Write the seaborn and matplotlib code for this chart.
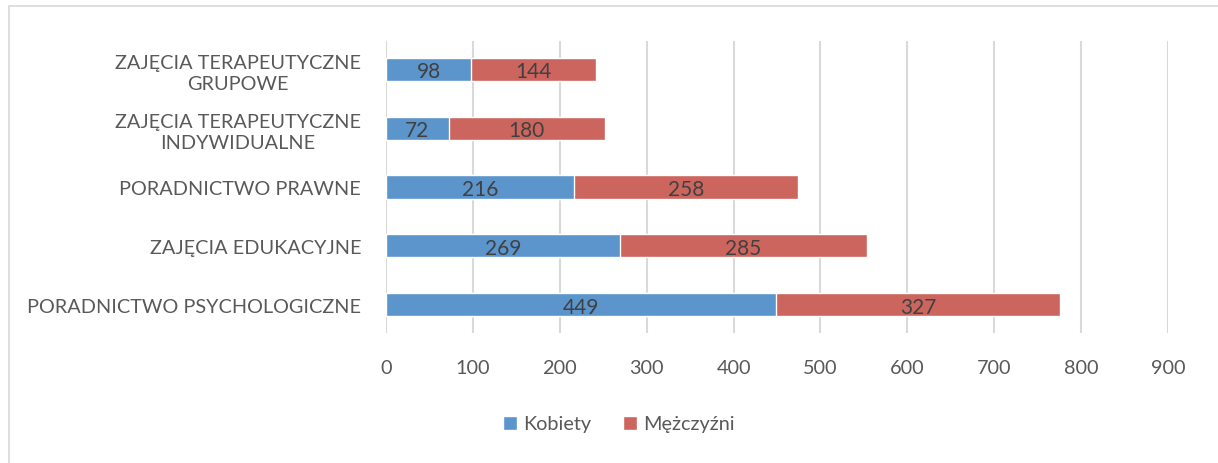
import numpy as np
import pandas as pd
import seaborn as sns
import matplotlib.pyplot as plt
from matplotlib.patches import Patch, Rectangle

# --- DANE ---
kategorie = ["ZAJĘCIA TERAPEUTYCZNE\nGRUPOWE",
             "ZAJĘCIA TERAPEUTYCZNE\nINDYWIDUALNE",
             "PORADNICTWO PRAWNE",
             "ZAJĘCIA EDUKACYJNE",
             "PORADNICTWO PSYCHOLOGICZNE"]
kobiety = [98, 72, 216, 269, 449]
mezczyzni = [144, 180, 258, 285, 327]
serie = ["Kobiety", "Mężczyźni"]

kol_k = "#5B95CB"
kol_m = "#CD655F"
szary = "#595959"
fs = 14.3

sns.set_style("white")
plt.rcParams["font.family"] = ["Lato", "DejaVu Sans"]

df = pd.DataFrame({"kat": kategorie, "k": kobiety, "m": mezczyzni})
df["suma"] = df["k"] + df["m"]

fig = plt.figure(figsize=(12.18, 4.64), dpi=100)
ax = fig.add_axes([386 / 1218, 1 - 334 / 464, (1168 - 386) / 1218, (334 - 42) / 464])

# najpierw sumy (czerwone), potem kobiety na wierzchu
sns.barplot(data=df, y="kat", x="suma", color=kol_m, width=0.39, saturation=1,
            orient="h", ax=ax, zorder=2)
sns.barplot(data=df, y="kat", x="k", color=kol_k, width=0.39, saturation=1,
            orient="h", ax=ax, zorder=3)

for i, row in df.iterrows():
    ax.text(row["k"] / 2, i + 0.03, str(row["k"]), ha="center", va="center",
            fontsize=15, color="#404040", zorder=4)
    ax.text(row["k"] + row["m"] / 2, i + 0.03, str(row["m"]), ha="center", va="center",
            fontsize=15, color="#404040", zorder=4)

ax.set_xlim(0, 900)
ax.set_ylim(4.475, -0.475)
ax.set_xticks(np.arange(0, 901, 100))
ax.grid(axis="x", color="#d9d9d9", linewidth=1.5, zorder=0)
ax.set_axisbelow(True)
sns.despine(ax=ax, left=True, bottom=True)
ax.set_xlabel("")
ax.set_ylabel("")
ax.tick_params(axis="x", length=0, pad=19, labelsize=fs, labelcolor=szary)
ax.tick_params(axis="y", length=0, pad=18, labelsize=fs, labelcolor=szary)
for t in ax.get_yticklabels():
    t.set_multialignment("center")
    t.set_linespacing(1.3)

uchwyty = [Patch(facecolor=kol_k, label=serie[0]), Patch(facecolor=kol_m, label=serie[1])]
fig.legend(handles=uchwyty, loc="center", bbox_to_anchor=(0.508, 1 - 425 / 464), ncol=2,
           frameon=False, fontsize=fs, labelcolor=szary, handlelength=0.7,
           handleheight=0.7, handletextpad=0.3, columnspacing=1.6)

# ramka wykresu
fig.patches.append(Rectangle((9 / 1218, -0.05), 1.2, 1 - 7 / 464 + 0.05,
                             transform=fig.transFigure, fill=False,
                             edgecolor="#d9d9d9", linewidth=1.2))

fig.savefig("out.png", dpi=100)
